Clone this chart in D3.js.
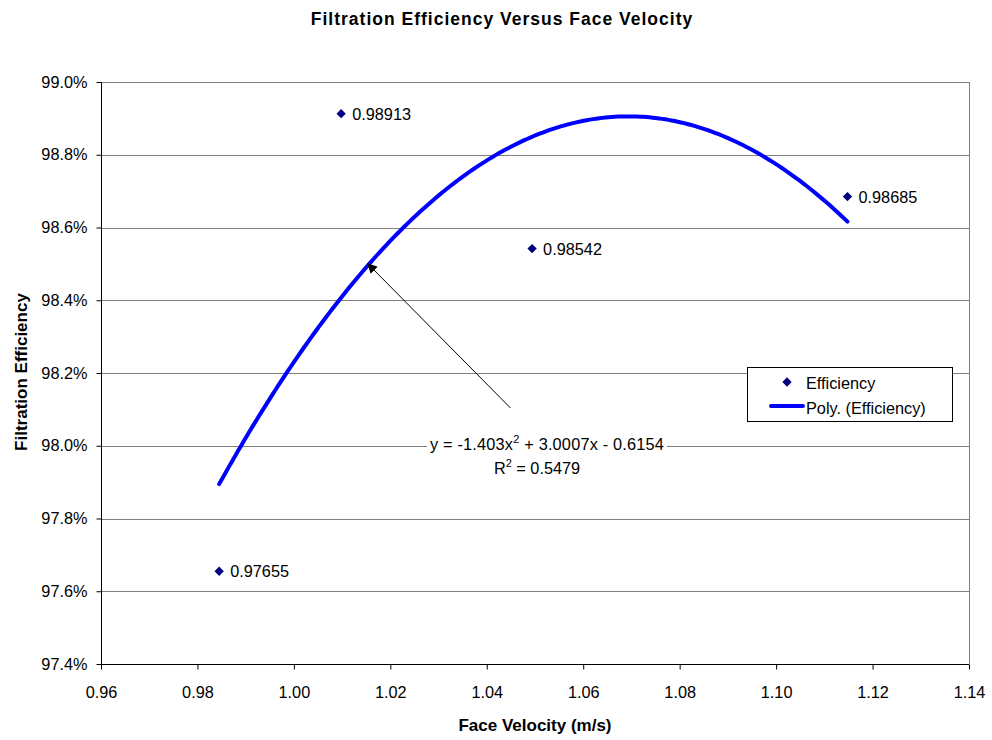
<!DOCTYPE html>
<html>
<head>
<meta charset="utf-8">
<script src="https://cdn.jsdelivr.net/npm/d3@7"></script>
<style>
  body { margin: 0; background: #fff; }
  svg { display: block; font-family: "Liberation Sans", Arial, sans-serif; }
</style>
</head>
<body>
<svg id="chart" width="992" height="740"></svg>
<script>
// Measured face velocity (m/s) and filtration efficiency
const velocity = [0.9845, 1.0098, 1.0494, 1.1148];
const efficiency = [0.97655, 0.98913, 0.98542, 0.98685];
const pointLabels = ["0.97655", "0.98913", "0.98542", "0.98685"];

// 2nd-order polynomial fit: y = a x^2 + b x + c
const polyCoef = [-1.403, 3.0007, -0.6154];
const rSquared = "0.5479";

// Axis ticks
const xTicks = [0.96, 0.98, 1.00, 1.02, 1.04, 1.06, 1.08, 1.10, 1.12, 1.14];
const yTicks = [0.974, 0.976, 0.978, 0.980, 0.982, 0.984, 0.986, 0.988, 0.990];

// Annotation arrow: from equation label to the fit curve (data units)
const arrowFrom = [1.0449, 0.98104];
const arrowTo = [1.0152, 0.98502];

const svg = d3.select("#chart");
const plotL = 101, plotR = 969, plotT = 82, plotB = 664;
const fs = 16.3;

const x = d3.scaleLinear().domain([0.96, 1.14]).range([plotL, plotR]);
const y = d3.scaleLinear().domain([0.974, 0.990]).range([plotB, plotT]);

svg.append("defs").append("marker")
  .attr("id", "arrow").attr("viewBox", "0 0 10 10")
  .attr("refX", 10).attr("refY", 5)
  .attr("markerWidth", 10).attr("markerHeight", 10)
  .attr("markerUnits", "userSpaceOnUse")
  .attr("orient", "auto")
  .append("path").attr("d", "M0,0 L10,5 L0,10 z").attr("fill", "#000");

// Gridlines
svg.append("g").selectAll("line").data(yTicks.slice(1)).join("line")
  .attr("x1", plotL).attr("x2", plotR)
  .attr("y1", d => Math.round(y(d)) + 0.5).attr("y2", d => Math.round(y(d)) + 0.5)
  .attr("stroke", "#808080").attr("stroke-width", 1);

// Right border of plot
svg.append("line").attr("x1", plotR + 0.5).attr("x2", plotR + 0.5)
  .attr("y1", plotT).attr("y2", plotB).attr("stroke", "#808080");

// Axes
const fmtPct = d3.format(".1%");
const yAxis = d3.axisLeft(y).tickValues(yTicks).tickFormat(fmtPct).tickSize(5).tickPadding(9);
const xAxis = d3.axisBottom(x).tickValues(xTicks).tickFormat(d3.format(".2f")).tickSize(5).tickPadding(17);

const gy = svg.append("g").attr("transform", `translate(${plotL + 0.5},0)`).call(yAxis);
const gx = svg.append("g").attr("transform", `translate(0,${plotB + 0.5})`).call(xAxis);
[gx, gy].forEach(g => {
  g.select(".domain").attr("stroke", "#000");
  g.selectAll(".tick line").attr("stroke", "#000");
  g.selectAll("text").attr("font-size", fs).attr("fill", "#000")
    .attr("font-family", "Liberation Sans, Arial, sans-serif");
});
gx.select(".domain").attr("d", `M${plotL},0H${plotR}`);
gy.select(".domain").attr("d", `M0,${plotT}V${plotB}`);

// Trendline
const poly = v => polyCoef[0] * v * v + polyCoef[1] * v + polyCoef[2];
const xs = d3.range(0, 201).map(i => velocity[0] + (velocity[velocity.length - 1] - velocity[0]) * i / 200);
svg.append("path")
  .datum(xs)
  .attr("d", d3.line().x(d => x(d)).y(d => y(poly(d))))
  .attr("fill", "none").attr("stroke", "#0000FF").attr("stroke-width", 4)
  .attr("stroke-linecap", "round");

// Equation label on a white backing
const eqBox = svg.append("rect").attr("fill", "#fff");
const eq = svg.append("text").attr("x", 547).attr("y", 450)
  .attr("text-anchor", "middle").attr("font-size", fs).attr("letter-spacing", 0.2);
eq.append("tspan").text(`y = ${polyCoef[0]}x`);
eq.append("tspan").attr("dy", -7).attr("font-size", 11).text("2");
eq.append("tspan").attr("dy", 7).text(` + ${polyCoef[1]}x - ${Math.abs(polyCoef[2])}`);
const bb = eq.node().getBBox();
eqBox.attr("x", bb.x - 3).attr("y", bb.y + 2).attr("width", bb.width + 6).attr("height", bb.height - 2);

const r2 = svg.append("text").attr("x", 537).attr("y", 474)
  .attr("text-anchor", "middle").attr("font-size", fs);
r2.append("tspan").text("R");
r2.append("tspan").attr("dy", -7).attr("font-size", 11).text("2");
r2.append("tspan").attr("dy", 7).text(` = ${rSquared}`);

// Arrow
svg.append("line")
  .attr("x1", x(arrowFrom[0])).attr("y1", y(arrowFrom[1]))
  .attr("x2", x(arrowTo[0])).attr("y2", y(arrowTo[1]))
  .attr("stroke", "#000").attr("stroke-width", 1).attr("marker-end", "url(#arrow)");

// Data points
const diamond = d3.symbol().type(d3.symbolDiamond2).size(55);
const pts = velocity.map((v, i) => ({ v, e: efficiency[i], label: pointLabels[i] }));
svg.append("g").selectAll("path").data(pts).join("path")
  .attr("d", diamond)
  .attr("transform", d => `translate(${x(d.v)},${y(d.e)})`)
  .attr("fill", "#000080");
svg.append("g").selectAll("text").data(pts).join("text")
  .attr("x", d => x(d.v) + 11).attr("y", d => y(d.e) + 6)
  .attr("font-size", fs).text(d => d.label);

// Legend
const lg = svg.append("g");
lg.append("rect").attr("x", 747.5).attr("y", 367.5).attr("width", 205).attr("height", 54)
  .attr("fill", "#fff").attr("stroke", "#000");
lg.append("path").attr("d", diamond).attr("transform", "translate(787,382)").attr("fill", "#000080");
lg.append("line").attr("x1", 771).attr("x2", 803).attr("y1", 406).attr("y2", 406)
  .attr("stroke", "#0000FF").attr("stroke-width", 4).attr("stroke-linecap", "round");
lg.append("text").attr("x", 806).attr("y", 389).attr("font-size", fs).text("Efficiency");
lg.append("text").attr("x", 806).attr("y", 414).attr("font-size", fs).text("Poly. (Efficiency)");

// Titles
svg.append("text").attr("x", 502).attr("y", 25).attr("text-anchor", "middle")
  .attr("font-size", 17.5).attr("letter-spacing", 1.0).attr("font-weight", "bold")
  .text("Filtration Efficiency Versus Face Velocity");
svg.append("text").attr("x", 535).attr("y", 731).attr("text-anchor", "middle")
  .attr("font-size", 17).attr("font-weight", "bold").text("Face Velocity (m/s)");
svg.append("text").attr("transform", "translate(27,372) rotate(-90)").attr("text-anchor", "middle")
  .attr("font-size", 17).attr("font-weight", "bold").text("Filtration Efficiency");
</script>
</body>
</html>
